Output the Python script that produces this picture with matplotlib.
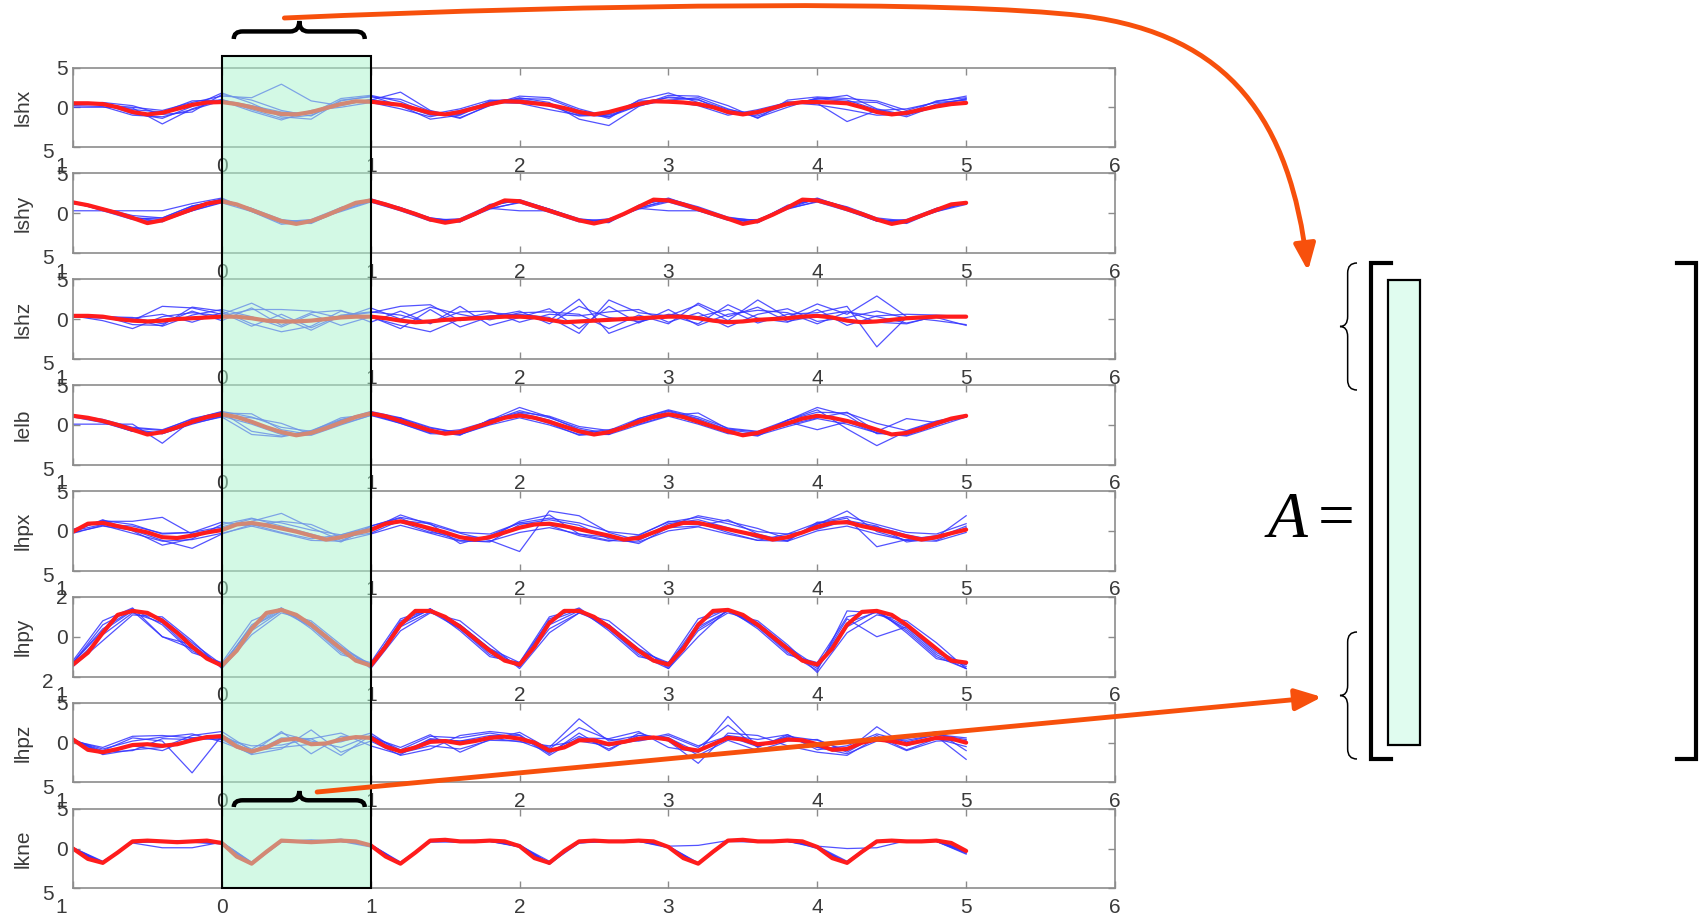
import numpy as np
import matplotlib
matplotlib.use('Agg')
import matplotlib.pyplot as plt
import matplotlib.transforms as mtransforms
from matplotlib.path import Path
from matplotlib.patches import PathPatch, Rectangle, FancyArrowPatch

plt.rcParams['font.family'] = ['Liberation Sans', 'DejaVu Sans']

# sampling times (s): mean curves every 0.1 s, single trials every 0.2 s
t_mean = np.linspace(-1, 5, 61)
t_trial = np.linspace(-1, 5, 31)

channels = ['lshx', 'lshy', 'lshz', 'lelb', 'lhpx', 'lhpy', 'lhpz', 'lkne']
y_limits = [5, 5, 5, 5, 5, 2, 5, 5]
x_ticks = [-1, 0, 1, 2, 3, 4, 5, 6]
x_tick_labels = ['1', '0', '1', '2', '3', '4', '5', '6']

# ---- mean trajectories (red) ----
lshx_mean = [0.5, 0.5, 0.4, 0.0, -0.6, -0.9, -0.7, -0.2, 0.3, 0.6,
             0.65, 0.4, 0.0, -0.5, -0.85, -0.9, -0.6, -0.1, 0.4, 0.75,
             0.7, 0.5, 0.3, -0.2, -0.7, -0.9, -0.6, -0.1, 0.4, 0.75,
             0.7, 0.5, 0.3, -0.1, -0.6, -0.9, -0.6, -0.1, 0.4, 0.75,
             0.7, 0.6, 0.4, 0.0, -0.6, -0.9, -0.6, -0.1, 0.4, 0.65,
             0.65, 0.6, 0.5, 0.0, -0.6, -0.9, -0.7, -0.3, 0.1, 0.4,
             0.55]
lshy_mean = [1.35, 1.0, 0.5, 0.0, -0.6, -1.25, -0.9, -0.2, 0.5, 1.2,
             1.5, 1.1, 0.4, -0.3, -1.0, -1.35, -1.0, -0.3, 0.5, 1.3,
             1.6, 1.1, 0.5, -0.1, -0.8, -1.2, -0.9, -0.1, 0.8, 1.6,
             1.5, 0.9, 0.3, -0.3, -0.9, -1.3, -0.9, -0.1, 0.8, 1.7,
             1.6, 1.1, 0.5, -0.1, -0.7, -1.35, -1.0, -0.2, 0.7, 1.7,
             1.6, 1.1, 0.5, -0.1, -0.8, -1.35, -1.0, -0.3, 0.4, 1.1,
             1.3]
lshz_mean = [0.4, 0.4, 0.3, 0.0, -0.2, -0.3, -0.2, 0.0, 0.1, 0.2,
             0.3, 0.3, 0.1, -0.2, -0.3, -0.3, -0.2, 0.0, 0.2, 0.3,
             0.3, 0.1, -0.2, -0.4, -0.3, -0.1, 0.0, 0.1, 0.2, 0.3,
             0.3, 0.2, -0.1, -0.4, -0.3, -0.2, -0.1, 0.0, 0.1, 0.2,
             0.3, 0.3, 0.1, -0.2, -0.4, -0.3, -0.1, 0.0, 0.1, 0.3,
             0.4, 0.2, -0.2, -0.4, -0.3, -0.1, 0.1, 0.2, 0.3, 0.3,
             0.3]
lelb_mean = [1.15, 0.9, 0.5, 0.0, -0.6, -1.2, -0.9, -0.3, 0.4, 1.0,
             1.35, 1.0, 0.4, -0.3, -0.9, -1.3, -1.0, -0.4, 0.3, 1.0,
             1.45, 1.1, 0.5, -0.1, -0.7, -1.1, -0.9, -0.3, 0.3, 0.9,
             1.2, 0.9, 0.4, -0.2, -0.8, -1.2, -0.9, -0.3, 0.4, 1.0,
             1.35, 1.0, 0.4, -0.2, -0.8, -1.3, -1.0, -0.4, 0.2, 0.8,
             1.15, 0.9, 0.5, 0.0, -0.6, -1.2, -1.0, -0.5, 0.2, 0.8,
             1.15]
lhpx_mean = [-0.1, 0.9, 1.0, 0.6, 0.2, -0.2, -0.8, -0.9, -0.6, -0.2,
             0.1, 0.8, 1.0, 0.7, 0.3, -0.1, -0.6, -1.1, -0.8, -0.3,
             0.1, 0.9, 1.2, 0.8, 0.3, -0.2, -0.8, -1.1, -0.8, -0.2,
             0.4, 0.8, 0.9, 0.6, 0.2, -0.2, -0.6, -1.1, -0.9, -0.2,
             0.5, 1.0, 1.0, 0.6, 0.2, -0.2, -0.6, -1.1, -0.8, -0.2,
             0.5, 1.0, 1.1, 0.6, 0.2, -0.2, -0.7, -1.1, -0.8, -0.3,
             0.15]
lhpy_mean = [-1.4, -0.8, 0.2, 1.1, 1.3, 1.2, 0.8, 0.2, -0.5, -1.1,
             -1.45, -0.7, 0.4, 1.2, 1.35, 1.1, 0.6, 0.0, -0.6, -1.2,
             -1.45, -0.5, 0.6, 1.3, 1.3, 1.0, 0.5, -0.1, -0.7, -1.2,
             -1.4, -0.5, 0.7, 1.3, 1.3, 1.0, 0.5, -0.1, -0.7, -1.2,
             -1.4, -0.6, 0.6, 1.3, 1.35, 1.1, 0.6, 0.0, -0.6, -1.2,
             -1.4, -0.6, 0.6, 1.25, 1.3, 1.1, 0.6, 0.0, -0.6, -1.2,
             -1.3]
lhpz_mean = [0.4, -0.9, -1.2, -0.8, -0.3, -0.2, -0.4, -0.2, 0.3, 0.7,
             0.8, -0.5, -1.1, -0.6, 0.3, 0.5, -0.2, -0.1, 0.4, 0.7,
             0.6, -0.5, -1.1, -0.6, 0.1, 0.2, -0.1, 0.2, 0.6, 0.75,
             0.5, 0.0, -1.0, -0.6, 0.3, 0.3, -0.2, 0.1, 0.5, 0.65,
             0.4, -0.7, -1.0, -0.2, 0.6, 0.4, -0.2, 0.0, 0.4, 0.3,
             -0.2, -0.9, -0.8, 0.0, 0.4, 0.2, -0.2, 0.2, 0.6, 0.5,
             0.0]
lkne_mean = [0.0, -1.3, -1.8, -0.5, 0.9, 1.0, 0.9, 0.8, 0.9, 1.0,
             0.7, -1.0, -1.9, -0.4, 1.0, 0.9, 0.8, 0.9, 1.0, 0.9,
             0.4, -1.0, -1.9, -0.5, 1.0, 1.1, 0.9, 0.9, 1.0, 0.9,
             0.3, -1.2, -1.8, -0.3, 0.9, 1.0, 0.9, 0.9, 1.0, 0.9,
             0.2, -1.2, -1.9, -0.4, 1.0, 1.1, 0.9, 0.9, 1.0, 0.9,
             0.2, -1.2, -1.8, -0.4, 0.9, 1.0, 0.9, 0.9, 1.0, 0.7,
             -0.3]

# ---- single trials (blue) ----
lshx_trials = [
    [0.5, 0.3, 0.0, -0.4, 0.6, 1.4, 1.2, 2.9, 0.8, 0.2, 1.0, 0.3, -1.0, -0.9, 0.8, 1.0, 0.4, -0.9, -1.2, 0.6, 1.2, 0.9, -0.3, -0.9, 0.5, 1.0, 1.5, -0.2, -1.0, 0.4, 1.0],
    [0.0, 0.0, -0.1, -2.1, -0.2, 1.0, -0.3, -1.4, -1.0, 0.5, 0.9, 1.9, -0.4, -1.3, 0.2, 1.2, 0.6, -1.5, -2.3, 0.1, 1.3, 1.0, -0.8, -0.7, 0.7, 0.5, -1.8, -0.4, -0.2, 0.6, 0.9],
    [0.4, 0.4, -0.8, -1.4, 0.1, 1.8, 0.5, -1.2, -1.5, 0.8, 1.4, 0.2, -1.5, -1.0, 0.7, 1.1, 1.0, -0.4, -1.4, 0.9, 1.8, 0.6, -0.5, -1.1, 0.3, 1.1, 0.7, 0.6, -0.8, 0.8, 1.2],
    [0.3, 0.5, -0.3, -0.6, 0.8, 0.9, 0.2, -0.6, -0.8, 1.1, 1.5, 0.7, -0.9, -0.2, 0.9, 0.8, 0.2, -1.1, -1.0, 0.2, 0.9, 1.2, -0.2, -1.3, 0.0, 1.2, 0.9, -0.3, -1.2, 0.2, 1.1],
    [0.4, 0.6, 0.2, -0.9, -0.6, 1.6, 0.9, -0.4, -1.1, 0.9, 1.3, 1.0, -0.5, -1.4, 0.3, 1.4, 1.2, -0.2, -1.2, 0.2, 1.5, 1.4, 0.2, -1.4, 0.9, 1.3, 1.1, 0.8, -0.4, 0.7, 1.4],
    [0.2, 0.1, -1.0, -1.2, -0.3, 0.8, -0.5, -1.6, -0.4, 0.0, 0.6, -0.2, -1.2, -0.4, 0.6, 0.5, -0.3, -1.0, -0.9, 0.8, 0.8, 0.2, -1.0, -0.3, 0.6, 0.3, -0.3, -1.0, -0.9, 0.0, 0.6]]
lshy_trials = [
    [0.3, 0.3, 0.3, 0.3, 1.2, 1.9, 0.3, -1.2, -1.3, 0.4, 1.7, 0.6, -0.9, -1.1, 0.6, 0.3, 0.3, -1.0, -1.2, 0.9, 1.9, 0.6, -0.8, -1.2, 0.6, 1.8, 0.7, -0.9, -1.3, 0.3, 1.4],
    [1.3, 0.6, -0.5, -1.1, 0.8, 1.8, 0.2, -1.4, -1.1, 0.6, 1.5, 0.4, -0.9, -0.7, 1.0, 1.6, 0.5, -0.8, -1.1, 0.6, 0.3, 0.3, -0.6, -1.2, 0.8, 1.8, 0.4, -1.0, -0.8, 0.6, 1.4],
    [1.4, 0.5, -0.7, -0.6, 0.9, 1.6, 0.6, -1.1, -0.8, 0.7, 1.6, 0.6, -0.6, -1.0, 0.9, 1.7, 0.5, -0.8, -1.0, 0.6, 1.7, 0.4, -0.6, -0.9, 0.9, 1.9, 0.6, -0.7, -1.2, 0.5, 1.2],
    [1.3, 0.4, -0.6, -0.8, 0.3, 1.4, 0.5, -0.9, -1.2, 0.3, 1.5, 0.7, -0.8, -1.0, 0.5, 1.4, 0.2, -1.0, -0.8, 0.7, 1.5, 0.7, -0.8, -1.1, 0.5, 1.5, 0.6, -0.9, -1.1, 0.2, 1.3],
    [1.2, 0.6, -0.3, -0.6, 0.9, 1.7, 0.6, -0.8, -1.2, 0.7, 1.8, 0.7, -0.6, -1.1, 1.1, 1.6, 0.5, -0.7, -1.1, 1.0, 1.8, 0.8, -0.5, -1.0, 1.0, 1.7, 0.8, -0.6, -1.0, 0.6, 1.4],
    [1.4, 0.3, -0.8, -1.0, 0.3, 1.3, 0.2, -1.2, -0.9, 0.2, 1.4, 0.3, -1.0, -0.8, 0.6, 1.3, 0.1, -1.1, -0.7, 0.5, 1.4, 0.3, -0.9, -0.8, 0.6, 1.4, 0.3, -1.0, -0.9, 0.2, 1.1]]
lshz_trials = [
    [0.3, 0.1, -0.2, 1.6, 1.4, 0.6, 2.0, 0.2, -1.4, 0.4, 0.8, 1.6, 1.8, -0.2, 0.4, 0.6, 0.2, -1.8, 2.4, 0.8, 0.4, 1.8, -0.2, 2.4, 0.2, 1.9, 0.6, 2.9, 0.3, 0.2, -0.8],
    [0.5, 0.4, -0.7, -0.8, 1.5, 1.0, -0.6, -1.6, -0.9, 1.0, 0.2, -0.8, -1.6, 0.0, 0.8, 0.5, -0.2, 2.5, -1.8, -0.4, 0.6, 0.3, 1.2, -0.5, 0.6, 0.8, 1.6, -3.5, 0.2, -0.2, -0.7],
    [0.4, -0.2, -1.2, 0.3, 0.8, 0.4, 1.2, 1.2, 1.0, 0.1, 1.4, 0.0, 1.5, 0.6, -0.1, 0.8, 0.9, 0.6, -1.2, 0.5, -0.6, 2.0, 0.3, 1.5, -0.3, 0.4, 1.0, -0.4, -0.6, 0.4, 0.2],
    [0.3, 0.2, 0.0, -0.9, 0.5, 1.2, 0.3, -1.0, 0.6, -0.8, 0.3, -1.2, 1.2, -1.0, 0.3, 1.0, -0.6, 1.6, 0.2, -0.3, 0.5, -0.6, 1.8, 0.1, -0.4, 1.2, -0.8, 0.4, 0.6, 0.5, 0.3],
    [0.4, 0.3, 0.2, -0.6, 1.0, -0.2, 1.4, -0.8, 0.8, 1.1, -0.4, 1.0, -0.6, 1.6, -0.8, 0.2, 1.3, -1.2, 1.6, -0.5, 1.2, -0.8, 0.6, 1.1, 0.8, -0.6, 0.9, 0.3, -0.5, 0.3, 0.3],
    [0.3, 0.3, 0.1, 0.6, -0.4, 0.8, -0.9, 0.6, -1.1, 0.5, 0.9, 0.5, -0.5, 0.9, 1.0, -0.4, 0.6, 0.4, 0.9, 1.2, -0.4, 0.8, -1.0, 0.6, 1.3, -0.3, 0.2, 1.0, 0.1, 0.3, 0.4]]
lelb_trials = [
    [0.1, 0.1, 0.1, -2.3, 0.6, 1.5, 1.4, -0.6, -1.2, 0.6, 1.6, 0.8, -0.4, -1.0, 0.6, 2.2, 1.0, -0.6, -1.2, 0.8, 1.8, 0.8, -0.6, -1.1, 0.6, 1.9, -0.5, -2.6, -0.8, 0.4, 1.2],
    [1.2, 0.6, -0.4, -0.7, 0.8, 1.6, -0.8, -1.4, -0.7, 0.7, 1.4, 0.2, -1.0, -0.6, 0.5, 1.8, 0.9, -0.4, -1.1, 0.5, 1.7, 0.7, -1.0, -1.2, 0.6, 2.2, 1.2, -1.1, -1.1, 0.0, 1.3],
    [1.1, 0.4, -0.8, -1.0, 0.3, 1.2, 0.9, 0.2, -1.2, 0.1, 1.2, 0.9, -0.9, -1.2, 0.1, 1.5, 0.6, -1.0, -0.6, 0.1, 1.2, 1.5, -0.5, -0.9, 0.0, 0.9, 1.6, -0.8, 0.8, 0.3, 1.0],
    [1.1, 0.5, -0.5, -1.1, 0.2, 1.0, -1.2, -1.5, -0.8, 0.9, 1.3, 0.3, -0.8, -1.3, 0.7, 1.3, 0.2, -1.3, -1.0, 0.7, 1.4, 0.3, -0.9, -1.4, 0.4, -0.6, 0.4, -1.0, -1.3, 0.1, 1.1],
    [1.2, 0.7, -0.3, -0.6, 0.7, 1.7, 1.0, -0.3, -0.8, 0.6, 1.7, 0.9, -0.3, -1.0, 0.6, 1.6, 1.1, -0.2, -0.7, 0.8, 1.9, 1.0, -0.4, -0.8, 0.6, 1.6, 1.5, 0.2, -0.7, 0.5, 1.2],
    [1.0, 0.3, -0.8, -1.1, 0.1, 1.1, 0.1, -1.2, -1.3, 0.0, 1.2, 0.2, -1.1, -1.2, 0.0, 0.9, 0.0, -1.2, -1.2, 0.0, 1.1, 0.1, -1.1, -1.3, -0.2, 0.8, 0.1, -1.0, -1.4, -0.2, 1.0]]
lhpx_trials = [
    [0.2, 1.2, 1.2, 1.7, -0.4, 0.3, 1.2, 2.2, 0.4, -1.2, 0.2, 2.0, 0.8, -0.3, -1.2, -2.6, 2.5, 1.9, -0.2, -1.2, 0.6, 1.9, 1.2, 0.3, -1.0, 0.8, 2.5, -0.1, -1.2, -0.8, 1.9],
    [-0.1, 1.4, 0.0, -1.8, -1.0, 0.8, 1.6, 0.6, -0.4, -1.4, 0.6, 1.6, 0.0, -1.2, -1.4, 0.8, 1.4, 0.7, -1.0, -1.1, 0.9, 1.4, 0.4, -0.9, -1.2, 0.9, 1.6, -2.0, -1.1, -0.6, 0.2],
    [0.0, 0.8, 0.6, -0.3, -0.2, 1.1, 0.6, 1.2, 0.8, -0.8, -0.3, 1.3, 0.9, -1.6, -0.6, 1.0, 0.7, -0.6, -1.3, -0.6, 1.2, 1.0, -0.2, -1.2, -0.4, 0.2, 1.3, 0.6, -1.4, -0.9, 0.6],
    [-0.2, 0.6, 0.1, -1.2, -2.2, -0.4, 0.8, -0.2, -1.0, -0.5, 0.4, 1.1, -0.2, -0.7, -0.9, 1.2, 2.0, -0.4, -0.8, -1.6, 0.4, 0.6, 1.4, -0.4, -1.3, 1.1, 0.9, 0.5, -0.5, -1.2, 0.4],
    [0.1, 1.3, 0.8, -0.4, -0.2, 0.5, 1.5, 1.0, 0.1, -0.5, 0.6, 1.7, 1.0, -0.2, -0.4, 1.0, 1.6, 1.0, -0.1, -0.5, 1.1, 1.7, 0.9, -0.1, -0.4, 1.0, 1.8, 0.8, -0.2, -0.4, 0.9],
    [-0.3, 0.7, -0.3, -1.3, -1.1, -0.3, 0.6, -0.3, -1.2, -1.3, -0.4, 0.7, -0.3, -1.3, -1.3, -0.2, 0.4, -0.4, -1.2, -1.4, 0.0, 0.5, -0.4, -1.2, -1.3, 0.0, 0.6, -0.4, -1.2, -1.3, -0.2]]
lhpy_trials = [
    [-1.2, 0.8, 1.45, 0.0, -0.4, -1.5, 0.6, 1.45, 0.5, -0.7, -1.5, 0.8, 1.4, 0.4, -0.9, -1.5, 0.9, 1.45, 0.4, -0.9, -1.6, 0.0, 1.4, 0.5, -0.8, -1.7, 1.3, 1.2, 0.4, -0.9, -1.6],
    [-1.3, 0.4, 1.35, 0.9, -0.3, -1.4, 0.5, 1.3, 0.7, -0.5, -1.4, 0.7, 1.35, 0.6, -0.6, -1.3, 0.8, 1.35, 0.6, -0.6, -1.4, 0.7, 1.4, 0.7, -0.5, -1.5, 0.9, 0.0, 0.5, -0.8, -1.5],
    [-1.4, 0.1, 1.2, 0.7, -0.7, -1.5, 0.3, 1.3, 0.5, -0.8, -1.5, 0.5, 1.25, 0.4, -0.8, -1.5, 0.6, 1.3, 0.4, -0.8, -1.5, 0.5, 1.3, 0.5, -0.7, -1.6, 0.5, 1.3, 0.3, -1.0, -1.6],
    [-1.3, 0.3, 1.3, 0.0, -0.6, -1.4, 0.5, 1.4, 0.7, -0.6, -1.4, 0.6, 1.4, 0.6, -0.6, -1.5, 0.4, 1.2, 0.6, -0.7, -1.3, 0.4, 1.3, 0.6, -0.7, -1.5, 0.7, 1.25, 0.5, -0.7, -1.4],
    [-1.5, -0.2, 1.1, 1.0, -0.2, -1.6, 0.1, 1.2, 0.8, -0.4, -1.6, 0.3, 1.2, 0.8, -0.4, -1.6, 0.2, 1.2, 0.8, -0.4, -1.6, 0.3, 1.2, 0.8, -0.4, -1.8, 0.2, 1.1, 0.8, -0.3, -1.6],
    [-1.3, 0.6, 1.4, 0.6, -0.8, -1.3, 0.8, 1.45, 0.4, -0.9, -1.3, 0.9, 1.4, 0.3, -1.0, -1.3, 1.0, 1.4, 0.3, -1.0, -1.3, 0.9, 1.4, 0.4, -0.9, -1.3, 1.0, 1.35, 0.2, -1.1, -1.4]]
lhpz_trials = [
    [0.3, -1.0, 0.6, 0.2, -3.8, 0.9, -0.8, 1.2, 0.2, -0.6, 0.9, -0.9, 0.8, 0.6, 1.2, 0.6, -0.6, 3.0, 0.2, 0.9, 0.6, -1.2, 3.3, -0.5, 0.8, 0.3, -1.0, 2.0, -0.4, 0.8, -2.1],
    [0.2, -0.6, 0.8, 0.9, 0.6, 0.4, -1.5, -0.8, 1.6, -1.2, 0.2, -1.6, -0.8, 0.9, 1.4, 1.0, -1.4, 1.2, -1.0, 1.2, 0.2, -2.6, 1.2, 0.9, -0.4, -1.2, -1.6, 0.6, -1.0, 0.2, 0.3],
    [0.5, -1.4, -0.4, -1.0, 0.6, 1.0, -1.3, 1.4, -1.4, 0.8, 0.7, -0.6, 1.0, -1.2, 0.4, 1.3, -0.8, 1.9, 0.4, 0.2, 0.9, -0.6, 2.2, -0.6, 1.0, -0.9, -0.4, 1.1, 0.1, 1.0, 0.4],
    [0.4, -1.2, -1.0, 0.5, 0.4, 0.5, -0.4, -0.3, 0.5, -1.6, 0.9, -1.3, -0.4, -0.8, 0.3, 0.2, -1.2, 0.8, -0.8, 0.9, 0.6, -1.6, 0.3, -1.0, 0.2, 0.4, -1.2, 0.9, -0.9, 0.5, -0.5],
    [0.3, -0.8, 0.2, 0.7, 1.1, 0.1, -1.4, 0.6, 0.5, 1.2, -0.4, -1.5, 0.5, 0.2, 0.9, 0.9, -1.6, 0.6, 0.5, 1.4, -0.6, -1.2, 0.9, 0.4, 1.0, -0.6, -0.8, 0.6, 0.3, 1.0, 0.6],
    [0.4, -1.5, -0.9, -0.6, 0.9, 1.4, -1.0, -0.6, -0.2, 0.1, 1.2, -1.2, 0.4, 0.2, 0.6, 0.1, -0.4, 0.2, -0.4, 0.3, 1.1, -0.4, 0.8, -0.5, 0.7, -0.6, -1.4, 0.2, 0.5, 1.4, -1.0]]
lkne_trials = [
    [0.1, -1.6, 0.7, 0.1, 0.1, 0.8, -1.7, 1.1, 0.9, 1.1, 0.5, -1.7, 0.9, 1.0, 1.1, 0.4, -1.6, 0.7, 1.0, 1.0, 0.3, 0.4, 1.0, 1.0, 0.9, 0.3, 0.0, 0.1, 1.0, 0.9, -0.7],
    [0.0, -1.9, 1.0, 1.0, 0.8, 0.6, -2.0, 0.8, 1.0, 0.9, 0.2, -2.0, 1.1, 0.8, 0.9, 0.2, -2.0, 1.0, 0.8, 0.9, 0.1, -2.0, 0.9, 0.8, 1.1, 0.0, -1.9, 0.8, 1.0, 0.9, -0.5],
    [0.0, -1.7, 0.8, 0.9, 1.0, 0.8, -1.8, 0.9, 1.1, 0.9, 0.5, -1.8, 0.8, 0.9, 1.0, 0.5, -1.9, 0.7, 0.9, 1.1, 0.3, -1.8, 1.1, 1.0, 0.9, 0.3, -1.6, 1.0, 0.8, 1.0, -0.4],
    [0.0, -1.8, 0.9, 0.8, 0.9, 0.7, -1.9, 1.0, 0.8, 1.2, 0.4, -1.9, 1.0, 1.0, 0.9, 0.3, -1.8, 0.9, 1.0, 0.9, 0.2, -1.9, 1.0, 0.9, 1.0, 0.2, -1.8, 0.9, 0.9, 1.0, -0.3],
    [0.0, -1.9, 0.9, 1.0, 1.0, 0.8, -1.8, 1.0, 0.9, 1.0, 0.3, -1.8, 1.0, 0.9, 1.0, 0.4, -1.9, 1.0, 1.0, 1.0, 0.2, -1.9, 1.0, 0.9, 1.0, 0.3, -1.9, 1.0, 0.9, 1.0, -0.4],
    [0.1, -1.7, 0.8, 0.9, 0.8, 0.6, -1.9, 0.9, 0.8, 0.9, 0.5, -1.9, 0.9, 0.8, 1.0, 0.2, -1.8, 0.8, 0.9, 1.0, 0.3, -1.9, 0.9, 0.9, 0.9, 0.1, -1.7, 0.9, 0.9, 0.9, -0.6]]

means = [lshx_mean, lshy_mean, lshz_mean, lelb_mean, lhpx_mean, lhpy_mean, lhpz_mean, lkne_mean]
trials = [lshx_trials, lshy_trials, lshz_trials, lelb_trials, lhpx_trials, lhpy_trials, lhpz_trials, lkne_trials]

W, H = 1700, 919
GRAY = '#8c8c8c'
TXT = '#3a3a3a'
ORANGE = '#f7500c'

fig = plt.figure(figsize=(W / 100, H / 100), dpi=100)

# stacked axes, positions in pixels
AX_LEFT, AX_RIGHT = 73, 1115
AX_TOP0, AX_STEP, AX_H = 67.5, 105.9, 79.5


def draw_channel(ax, name, mean, trs, lim):
    """One joint channel: single trials in blue, mean in red"""
    for tr in trs:
        ax.plot(t_trial, tr, color='#3434ff', lw=0.9, alpha=0.85)
    ax.plot(t_mean, mean, color='#ff1c1c', lw=3.0, solid_capstyle='round')
    ax.set_xlim(-1, 6)
    ax.set_ylim(-lim, lim)
    ax.set_xticks(x_ticks)
    ax.set_xticklabels(x_tick_labels)
    ax.set_yticks([-lim, 0, lim])
    ax.set_yticklabels([str(lim), '0', str(lim)])
    ax.tick_params(direction='in', top=True, right=True, length=5, width=1,
                   color=GRAY, labelcolor=TXT, labelsize=15)
    ax.tick_params(axis='x', pad=7)
    ax.tick_params(axis='y', pad=4)
    for s in ax.spines.values():
        s.set_color(GRAY)
        s.set_linewidth(1.2)
    ax.text(-0.048, 0.5, name, transform=ax.transAxes, rotation=90,
            ha='center', va='center', fontsize=15, color=TXT)
    # the "-1" and "-5" labels sit a bit off their ticks in the original
    lab = ax.get_xticklabels()[0]
    lab.set_transform(lab.get_transform() + mtransforms.ScaledTranslation(-0.12, 0, fig.dpi_scale_trans))
    lab = ax.get_yticklabels()[0]
    lab.set_transform(lab.get_transform() + mtransforms.ScaledTranslation(-0.14, -0.04, fig.dpi_scale_trans))


axes = []
for i, name in enumerate(channels):
    top = AX_TOP0 + i * AX_STEP
    ax = fig.add_axes([AX_LEFT / W, 1 - (top + AX_H) / H, (AX_RIGHT - AX_LEFT) / W, AX_H / H])
    draw_channel(ax, name, means[i], trials[i], y_limits[i])
    axes.append(ax)

# overlay in pixel coordinates (y down)
ov = fig.add_axes([0, 0, 1, 1], zorder=10)
ov.set_xlim(0, W)
ov.set_ylim(H, 0)
ov.axis('off')
ov.patch.set_alpha(0)


def to_px(ax, x, y):
    d = ax.transData.transform((x, y))
    return d[0], H - d[1]


def h_brace(x0, x1, y_end, y_tip, lw):
    xm = (x0 + x1) / 2
    yb = y_end - (y_end - y_tip) * 0.42
    r = 9
    verts = [(x0, y_end), (x0, yb), (x0 + r, yb), (xm - r, yb),
             (xm, yb), (xm, y_tip), (xm, yb), (xm + r, yb),
             (x1 - r, yb), (x1, yb), (x1, y_end)]
    codes = [Path.MOVETO, Path.CURVE3, Path.CURVE3, Path.LINETO,
             Path.CURVE3, Path.CURVE3, Path.CURVE3, Path.CURVE3,
             Path.LINETO, Path.CURVE3, Path.CURVE3]
    ov.add_patch(PathPatch(Path(verts, codes), fill=False, lw=lw, edgecolor='black'))


def v_brace(x_end, x_tip, y0, y1, lw):
    ym = (y0 + y1) / 2
    xb = x_end - (x_end - x_tip) * 0.55
    r = 10
    verts = [(x_end, y0), (xb, y0), (xb, y0 + r), (xb, ym - r),
             (xb, ym), (x_tip, ym), (xb, ym), (xb, ym + r),
             (xb, y1 - r), (xb, y1), (x_end, y1)]
    codes = [Path.MOVETO, Path.CURVE3, Path.CURVE3, Path.LINETO,
             Path.CURVE3, Path.CURVE3, Path.CURVE3, Path.CURVE3,
             Path.LINETO, Path.CURVE3, Path.CURVE3]
    ov.add_patch(PathPatch(Path(verts, codes), fill=False, lw=lw, edgecolor='black'))


# highlighted window 0..1 s across all channels
gx0, _ = to_px(axes[0], 0, 0)
gx1, _ = to_px(axes[0], 1, 0)
_, gy1 = to_px(axes[-1], 0, -y_limits[-1])
gy0 = 56
ov.add_patch(Rectangle((gx0, gy0), gx1 - gx0, gy1 - gy0, facecolor='#a9f5cd', alpha=0.5, edgecolor='none'))
ov.add_patch(Rectangle((gx0, gy0), gx1 - gx0, gy1 - gy0, facecolor='none', edgecolor='black', lw=1.5))

bx0, _ = to_px(axes[0], 0.08, 0)
bx1, _ = to_px(axes[0], 0.96, 0)
h_brace(bx0, bx1, 39, 21, 3.2)
h_brace(bx0, bx1, 807, 791, 3.2)

# arrows into the matrix
sx, _ = to_px(axes[0], 0.42, 0)
top_path = Path([(sx, 18), (600, 4), (950, 0), (1084, 16), (1230, 35), (1290, 120), (1308, 271)],
                [Path.MOVETO, Path.CURVE4, Path.CURVE4, Path.CURVE4, Path.CURVE4, Path.CURVE4, Path.CURVE4])
ov.add_patch(FancyArrowPatch(path=top_path, arrowstyle='-|>,head_length=16,head_width=6.5',
                             mutation_scale=1, lw=3.5, color=ORANGE))
sx2, _ = to_px(axes[0], 0.64, 0)
ov.add_patch(FancyArrowPatch((sx2, 792), (1322, 697), arrowstyle='-|>,head_length=16,head_width=6.5',
                             mutation_scale=1, lw=3.5, color=ORANGE, shrinkA=0, shrinkB=0))

# matrix A
ov.text(1288, 537, 'A', fontsize=47, family='Liberation Serif', style='italic',
        ha='center', va='baseline', color='black')
ov.text(1336, 537, '=', fontsize=47, family='Liberation Serif',
        ha='center', va='baseline', color='black')
ov.plot([1391, 1371, 1371, 1391], [263, 263, 759, 759], color='black', lw=3, solid_joinstyle='miter')
ov.plot([1677, 1696, 1696, 1677], [263, 263, 759, 759], color='black', lw=3, solid_joinstyle='miter')
ov.add_patch(Rectangle((1388, 280), 32, 465, facecolor='#e0fcef', edgecolor='black', lw=1.6))
v_brace(1357, 1340, 263, 390, 1.1)
v_brace(1357, 1340, 632, 759, 1.1)

fig.savefig('out.png', dpi=100)
